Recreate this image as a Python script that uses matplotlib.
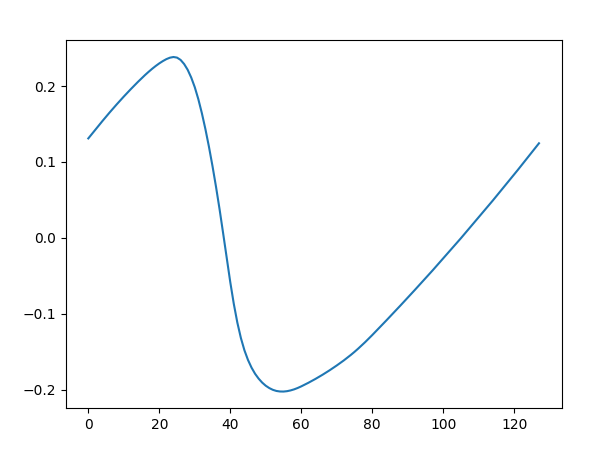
import matplotlib
matplotlib.use('Agg')
import matplotlib.pyplot as plt

# sample index 0..127
x_values = list(range(128))

# values
y_values = [
    0.1310, 0.1368, 0.1426, 0.1483, 0.1540, 0.1596, 0.1651, 0.1705, 0.1758, 0.1810,   # 0-9
    0.1861, 0.1911, 0.1960, 0.2008, 0.2055, 0.2101, 0.2145, 0.2187, 0.2227, 0.2264,   # 10-19
    0.2298, 0.2328, 0.2354, 0.2373, 0.2382, 0.2374, 0.2344, 0.2290, 0.2214, 0.2112,   # 20-29
    0.1985, 0.1828, 0.1643, 0.1433, 0.1200, 0.0945, 0.0670, 0.0375, 0.0060, -0.0265,  # 30-39
    -0.0580, -0.0868, -0.1115, -0.1318, -0.1480, -0.1607, -0.1708, -0.1789, -0.1853, -0.1905,  # 40-49
    -0.1946, -0.1977, -0.2000, -0.2015, -0.2022, -0.2023, -0.2018, -0.2008, -0.1994, -0.1976,  # 50-59
    -0.1955, -0.1932, -0.1908, -0.1883, -0.1857, -0.1830, -0.1802, -0.1773, -0.1743, -0.1712,  # 60-69
    -0.1680, -0.1647, -0.1613, -0.1577, -0.1540, -0.1501, -0.1460, -0.1417, -0.1373, -0.1327,  # 70-79
    -0.1280, -0.1232, -0.1183, -0.1135, -0.1086, -0.1037, -0.0988, -0.0938, -0.0888, -0.0838,  # 80-89
    -0.0788, -0.0737, -0.0686, -0.0635, -0.0584, -0.0533, -0.0481, -0.0429, -0.0376, -0.0324,  # 90-99
    -0.0271, -0.0218, -0.0165, -0.0111, -0.0058, -0.0004, 0.0051, 0.0105, 0.0160, 0.0215,  # 100-109
    0.0270, 0.0325, 0.0381, 0.0437, 0.0493, 0.0550, 0.0606, 0.0663, 0.0720, 0.0778,  # 110-119
    0.0836, 0.0893, 0.0952, 0.1010, 0.1069, 0.1128, 0.1187, 0.1246,  # 120-127
]

fig = plt.figure(figsize=(5.93, 4.5), dpi=100)
ax = fig.add_axes([0.1109, 0.0927, 0.836, 0.8178])
ax.plot(x_values, y_values, color='#1f77b4', linewidth=1.5)

ax.set_xticks([0, 20, 40, 60, 80, 100, 120])
ax.set_yticks([-0.2, -0.1, 0.0, 0.1, 0.2])

fig.savefig('out.png', dpi=100)
plt.close(fig)
